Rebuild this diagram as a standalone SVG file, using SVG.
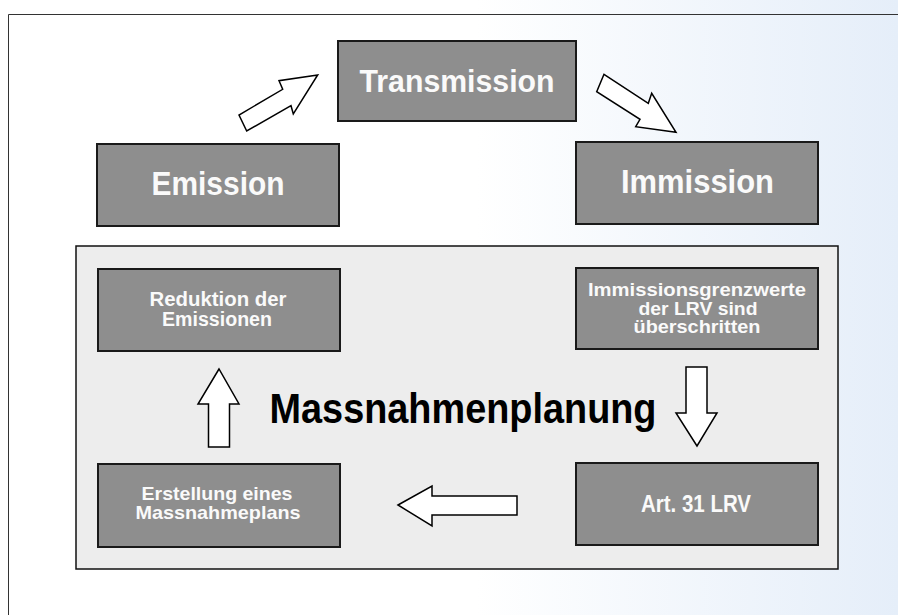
<svg xmlns="http://www.w3.org/2000/svg" width="898" height="615" viewBox="0 0 898 615">
  <defs>
    <linearGradient id="bg" x1="0" y1="0" x2="1" y2="0">
      <stop offset="0" stop-color="#ffffff"/>
      <stop offset="0.53" stop-color="#ffffff"/>
      <stop offset="1" stop-color="#e5eef9"/>
    </linearGradient>
    <style>
      .box { fill: #8e8e8e; stroke: #1a1a1a; stroke-width: 2; }
      .arrow { fill: #ffffff; stroke: #000000; stroke-width: 1.5; stroke-linejoin: miter; }
      .t { font-family: "Liberation Sans", Arial, sans-serif; font-weight: bold; fill: #fafafa; text-anchor: middle; }
      .big { font-family: "Liberation Sans", Arial, sans-serif; font-weight: bold; fill: #000000; text-anchor: middle; }
    </style>
  </defs>

  <rect x="0" y="0" width="898" height="615" fill="url(#bg)"/>
  <path d="M8.5 615 L8.5 14.5 L898 14.5" fill="none" stroke="#333333" stroke-width="1"/>

  <g id="panel">
    <rect x="76" y="246" width="762" height="323" fill="#ededed" stroke="#111111" stroke-width="1.5"/>
    <text class="big" x="463" y="423" font-size="43" textLength="387" lengthAdjust="spacingAndGlyphs">Massnahmenplanung</text>
  </g>

  <g id="transmission">
    <rect class="box" x="338" y="41" width="238" height="80"/>
    <text class="t" x="457" y="92" font-size="32" textLength="195" lengthAdjust="spacingAndGlyphs">Transmission</text>
  </g>
  <g id="emission">
    <rect class="box" x="97" y="144" width="242" height="82"/>
    <text class="t" x="218" y="195" font-size="33" textLength="133" lengthAdjust="spacingAndGlyphs">Emission</text>
  </g>
  <g id="immission">
    <rect class="box" x="576" y="142" width="242" height="82"/>
    <text class="t" x="697.5" y="193" font-size="33" textLength="153" lengthAdjust="spacingAndGlyphs">Immission</text>
  </g>

  <g id="reduktion">
    <rect class="box" x="98" y="269" width="242" height="82" stroke-width="1.5"/>
    <text class="t" x="218" y="306" font-size="20" textLength="137" lengthAdjust="spacingAndGlyphs">Reduktion der</text>
    <text class="t" x="217" y="326" font-size="20" textLength="110" lengthAdjust="spacingAndGlyphs">Emissionen</text>
  </g>
  <g id="grenzwerte">
    <rect class="box" x="576" y="268" width="242" height="81" stroke-width="1.5"/>
    <text class="t" x="697" y="296" font-size="18" textLength="218" lengthAdjust="spacingAndGlyphs">Immissionsgrenzwerte</text>
    <text class="t" x="698" y="314.5" font-size="18" textLength="119" lengthAdjust="spacingAndGlyphs">der LRV sind</text>
    <text class="t" x="697" y="332.5" font-size="18" textLength="127" lengthAdjust="spacingAndGlyphs">überschritten</text>
  </g>
  <g id="erstellung">
    <rect class="box" x="98" y="464" width="242" height="83"/>
    <text class="t" x="217" y="500" font-size="19" textLength="151" lengthAdjust="spacingAndGlyphs">Erstellung eines</text>
    <text class="t" x="218" y="519" font-size="19" textLength="165" lengthAdjust="spacingAndGlyphs">Massnahmeplans</text>
  </g>
  <g id="art31">
    <rect class="box" x="576" y="463" width="242" height="82"/>
    <text class="t" x="696" y="512" font-size="24" textLength="110" lengthAdjust="spacingAndGlyphs">Art. 31 LRV</text>
  </g>

  <g id="connectors">
    <polygon class="arrow" points="317.7,75 279,80.7 282.7,89.3 239,115 246.7,131 291,105.7 293.3,114"/>
    <polygon class="arrow" points="604,74.3 596.7,91.7 640,119.3 635.7,126.7 676,132.3 651.7,93.3 648.3,103.3"/>
    <polygon class="arrow" points="219,369 198,404 208.5,404 208.5,447 229.5,447 229.5,404 239,404"/>
    <polygon class="arrow" points="697,446 676,413 686,413 686,367 707,367 707,413 717,413"/>
    <polygon class="arrow" points="398,505 432,486 432,496 517,496 517,515 432,515 432,526"/>
  </g>
</svg>
